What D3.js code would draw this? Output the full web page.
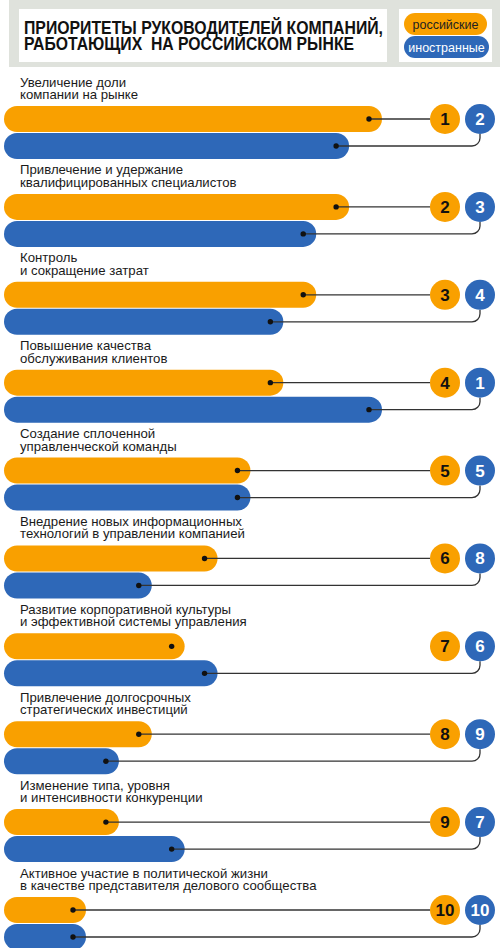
<!DOCTYPE html>
<html>
<head>
<meta charset="utf-8">
<script src="https://cdn.jsdelivr.net/npm/d3@7"></script>
<style>
  body { margin: 0; background: #fff; }
  svg text { font-family: "Liberation Sans", Arial, sans-serif; }
</style>
</head>
<body>
<div id="chart"></div>
<script>
// priorities of company heads, russian vs foreign (rank 1 = top)

var labels = [
  ["Увеличение доли", "компании на рынке"],
  ["Привлечение и удержание", "квалифицированных специалистов"],
  ["Контроль", "и сокращение затрат"],
  ["Повышение качества", "обслуживания клиентов"],
  ["Создание сплоченной", "управленческой команды"],
  ["Внедрение новых информационных", "технологий в управлении компанией"],
  ["Развитие корпоративной культуры", "и эффективной системы управления"],
  ["Привлечение долгосрочных", "стратегических инвестиций"],
  ["Изменение типа, уровня", "и интенсивности конкуренции"],
  ["Активное участие в политической жизни", "в качестве представителя делового сообщества"]
];

var rankRussian = [1, 2, 3, 4, 5, 6, 7, 8, 9, 10];
var rankForeign = [2, 3, 4, 1, 5, 8, 6, 9, 7, 10];

// in the original the leader line of row 7 (russian) is not drawn
var russianLinkShown = [true, true, true, true, true, true, false, true, true, true];

var legendNames = ["российские", "иностранные"];
var titleLines = ["ПРИОРИТЕТЫ РУКОВОДИТЕЛЕЙ КОМПАНИЙ,", "РАБОТАЮЩИХ  НА РОССИЙСКОМ РЫНКЕ"];

var width = 500;
var height = 948;

var orange = "#f9a000";
var blue = "#2e68b8";
var ink = "#333";

var barLeft = 4;
var barH = 26;
var circR = 15;
var orangeCx = 445;
var blueCx = 480;

var svg = d3
  .select("#chart")
  .append("svg")
  .attr("width", width)
  .attr("height", height);

// header
svg.append("rect").attr("x", 9).attr("y", 0).attr("width", 491).attr("height", 67).attr("fill", "#dfe2dc");
svg.append("rect").attr("x", 19).attr("y", 9).attr("width", 368).attr("height", 53).attr("fill", "#fff");
svg.append("rect").attr("x", 399).attr("y", 9).attr("width", 93).attr("height", 53).attr("fill", "#fff");

var titleLen = [359, 330];
svg.selectAll("text.title")
  .data(titleLines)
  .enter()
  .append("text")
  .attr("class", "title")
  .attr("x", 24)
  .attr("y", function(d, i) { return 34 + i * 16; })
  .attr("font-size", 18)
  .attr("font-weight", "bold")
  .attr("fill", "#111")
  .style("white-space", "pre")
  .attr("textLength", function(d, i) { return titleLen[i]; })
  .attr("lengthAdjust", "spacingAndGlyphs")
  .text(function(d) { return d; });

// legend pills
var legendColors = [orange, blue];
var legend = svg.selectAll("g.legend")
  .data(legendNames)
  .enter()
  .append("g")
  .attr("class", "legend")
  .attr("transform", function(d, i) { return "translate(404," + (13 + i * 23) + ")"; });

legend.append("rect")
  .attr("width", function(d, i) { return i ? 85 : 83; })
  .attr("height", 22)
  .attr("rx", 11)
  .attr("fill", function(d, i) { return legendColors[i]; });

legend.append("text")
  .attr("x", function(d, i) { return i ? 42.5 : 41.5; })
  .attr("y", 15.5)
  .attr("text-anchor", "middle")
  .attr("font-size", 12.5)
  .attr("fill", function(d, i) { return i ? "#fff" : "#222"; })
  .text(function(d) { return d; });

// scales
var xscale = d3.scaleLinear().domain([1, 10]).range([382, 86]); // rank -> bar end
var yscale = d3.scaleLinear().domain([0, 9]).range([106, 897]); // row -> top of orange bar

var rows = svg.selectAll("g.row")
  .data(labels)
  .enter()
  .append("g")
  .attr("class", "row")
  .attr("transform", function(d, i) { return "translate(0," + yscale(i) + ")"; });

// category labels
rows.selectAll("text.lbl")
  .data(function(d) { return d; })
  .enter()
  .append("text")
  .attr("class", "lbl")
  .attr("x", 20)
  .attr("y", function(d, j) { return -19.5 + j * 12.5; })
  .attr("font-size", 13.2)
  .attr("fill", "#1a1a1a")
  .text(function(d) { return d; });

// bars
rows.append("rect")
  .attr("x", barLeft)
  .attr("y", 0)
  .attr("height", barH)
  .attr("rx", barH / 2)
  .attr("width", function(d, i) { return xscale(rankRussian[i]) - barLeft; })
  .attr("fill", orange);

rows.append("rect")
  .attr("x", barLeft)
  .attr("y", barH + 1)
  .attr("height", barH)
  .attr("rx", barH / 2)
  .attr("width", function(d, i) { return xscale(rankForeign[i]) - barLeft; })
  .attr("fill", blue);

// leader lines
rows.filter(function(d, i) { return russianLinkShown[i]; })
  .append("line")
  .attr("x1", function(d) { return xscale(rankRussian[labels.indexOf(d)]) - 13; })
  .attr("x2", orangeCx - circR)
  .attr("y1", barH / 2)
  .attr("y2", barH / 2)
  .attr("stroke", ink)
  .attr("stroke-width", 1.3);

rows.append("path")
  .attr("d", function(d, i) {
    var yb = barH + 1 + barH / 2;
    var x0 = xscale(rankForeign[i]) - 13;
    return "M" + x0 + "," + yb + "H" + (blueCx - 8) +
      "A8,8 0 0 0 " + blueCx + "," + (yb - 8) + "V" + (barH / 2 + circR);
  })
  .attr("fill", "none")
  .attr("stroke", ink)
  .attr("stroke-width", 1.3);

// dots at bar ends
rows.append("circle")
  .attr("cx", function(d, i) { return xscale(rankRussian[i]) - 13; })
  .attr("cy", barH / 2)
  .attr("r", 2.7)
  .attr("fill", "#111");

rows.append("circle")
  .attr("cx", function(d, i) { return xscale(rankForeign[i]) - 13; })
  .attr("cy", barH + 1 + barH / 2)
  .attr("r", 2.7)
  .attr("fill", "#111");

// rank badges
rows.append("circle")
  .attr("cx", orangeCx)
  .attr("cy", barH / 2)
  .attr("r", circR)
  .attr("fill", orange);

rows.append("circle")
  .attr("cx", blueCx)
  .attr("cy", barH / 2)
  .attr("r", circR)
  .attr("fill", blue);

rows.append("text")
  .attr("x", orangeCx)
  .attr("y", barH / 2 + 6)
  .attr("text-anchor", "middle")
  .attr("font-size", 17)
  .attr("font-weight", "bold")
  .attr("fill", "#111")
  .text(function(d, i) { return rankRussian[i]; });

rows.append("text")
  .attr("x", blueCx)
  .attr("y", barH / 2 + 6)
  .attr("text-anchor", "middle")
  .attr("font-size", 17)
  .attr("font-weight", "bold")
  .attr("fill", "#fff")
  .text(function(d, i) { return rankForeign[i]; });
</script>
</body>
</html>
